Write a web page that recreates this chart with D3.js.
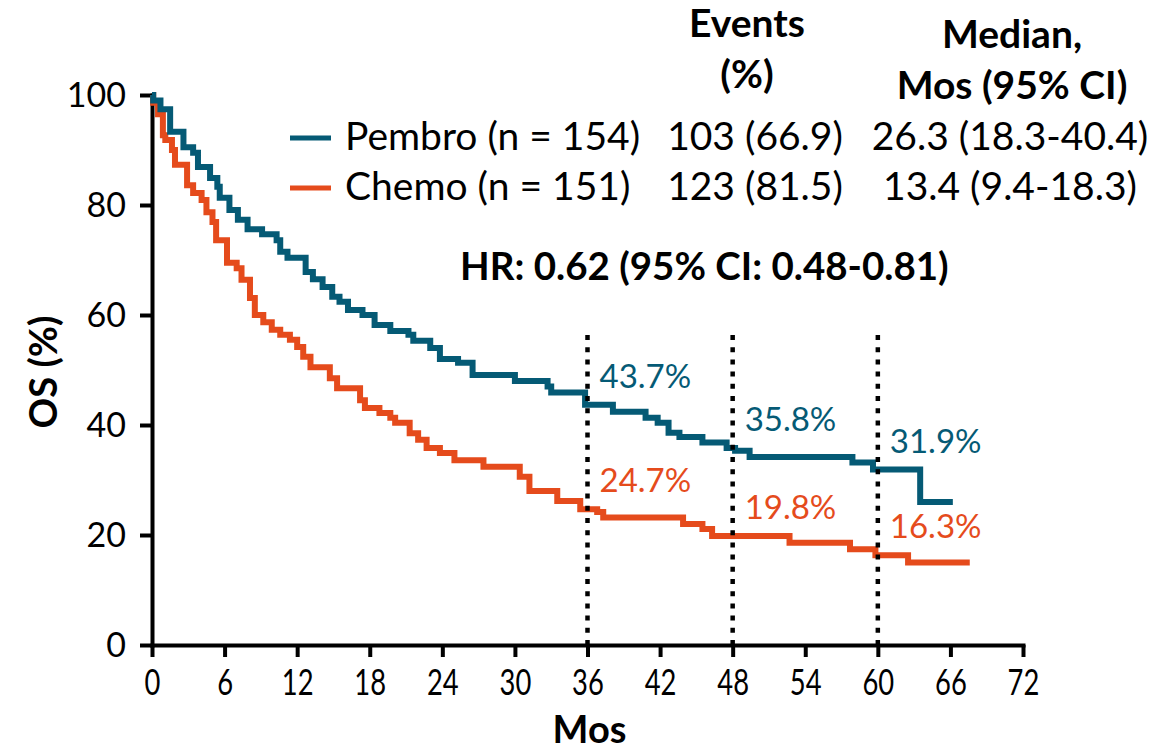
<!DOCTYPE html>
<html>
<head>
<meta charset="utf-8">
<script src="https://cdn.jsdelivr.net/npm/d3@7"></script>
<style>
  html, body { margin: 0; padding: 0; background: #fff; }
  svg { display: block; }
  text { font-family: Lato, "Open Sans", sans-serif; fill: #000; }
</style>
</head>
<body>
<svg id="chart" width="1165" height="751"></svg>
<script>
// Kaplan-Meier overall survival: month of each step and survival (%) after it
const pembroMonths = [0, 0.1, 0.7, 1.5, 2.6, 3.4, 3.8, 4.8, 5.4, 5.6, 6.4, 7.1, 7.9, 9.1, 10.3, 10.6, 11.2,
  12.7, 13.3, 14.1, 14.9, 15.5, 16.2, 17.4, 18.4, 19.7, 21.2, 21.6, 23.0, 23.8, 25.3, 26.5, 30.0, 32.7, 33.0,
  35.8, 38.1, 40.8, 41.8, 42.7, 43.6, 45.5, 47.5, 48.2, 49.4, 57.9, 59.6, 63.5, 66.2];
const pembroSurv = [100, 99.0, 97.4, 93.3, 90.5, 89.5, 86.9, 84.9, 83.3, 81.3, 79.1, 77.3, 75.6, 74.7, 73.6, 71.5, 70.4,
  67.8, 66.5, 65.1, 63.3, 62.4, 60.9, 60.0, 58.2, 57.1, 56.4, 55.3, 54.0, 52.0, 51.3, 49.1, 48.0, 47.0, 45.9,
  43.7, 42.4, 41.3, 40.4, 38.6, 37.8, 36.8, 35.8, 35.3, 34.2, 33.2, 31.9, 26.0, 26.0];

const chemoMonths = [0, 0.1, 0.5, 0.9, 1.1, 1.65, 1.9, 2.9, 3.4, 4.1, 4.5, 5.0, 5.3, 6.2, 7.0, 7.4, 8.1, 8.5,
  9.2, 9.9, 10.6, 11.4, 12.0, 12.5, 13.1, 14.7, 15.3, 17.2, 17.6, 18.8, 19.7, 20.1, 21.3, 22.0, 22.7, 23.8,
  25.0, 27.4, 30.4, 31.2, 33.5, 35.4, 36.8, 37.3, 43.9, 45.5, 46.3, 52.7, 57.7, 59.8, 62.5, 67.6];
const chemoSurv = [100, 98.6, 96.5, 92.7, 91.8, 90.0, 87.3, 83.6, 82.2, 80.9, 78.7, 76.9, 73.6, 69.5, 68.5, 66.4, 63.1, 60.0,
  58.7, 57.3, 56.4, 55.5, 54.2, 52.4, 50.5, 48.5, 46.7, 44.5, 43.1, 42.2, 41.3, 40.4, 38.5, 37.3, 35.8, 34.9,
  33.6, 32.4, 30.6, 28.0, 26.2, 24.7, 24.2, 23.2, 22.0, 21.1, 19.8, 18.6, 17.4, 16.3, 15.0, 15.0];

// Landmark time points and the survival rates printed at them
const landmarkMonths = [36, 48, 60];
const pembroLandmark = [43.7, 35.8, 31.9];
const chemoLandmark = [24.7, 19.8, 16.3];
const landmarkTop = 57;

// Axis ticks
const xTicks = [0, 6, 12, 18, 24, 30, 36, 42, 48, 54, 60, 66, 72];
const yTicks = [0, 20, 40, 60, 80, 100];

// Summary table
const armNames = ["Pembro (n = 154)", "Chemo (n = 151)"];
const armEvents = ["103 (66.9)", "123 (81.5)"];
const armMedians = ["26.3 (18.3-40.4)", "13.4 (9.4-18.3)"];
const hrText = "HR: 0.62 (95% CI: 0.48-0.81)";

const BLUE = "#055a75";
const ORANGE = "#e54b1c";
const armColors = [BLUE, ORANGE];

const svg = d3.select("#chart");

const x = d3.scaleLinear().domain([0, 72]).range([152, 1023]);
const y = d3.scaleLinear().domain([0, 100]).range([645, 95]);

// Axes
const xAxis = svg.append("g")
  .attr("transform", `translate(0,${y(0)})`)
  .call(d3.axisBottom(x).tickValues(xTicks).tickSize(12).tickSizeOuter(0).tickPadding(10));
const yAxis = svg.append("g")
  .attr("transform", `translate(${x(0)},0)`)
  .call(d3.axisLeft(y).tickValues(yTicks).tickSize(12).tickSizeOuter(0).tickPadding(14));

[xAxis, yAxis].forEach(g => {
  g.select(".domain").attr("stroke", "#000").attr("stroke-width", 4).attr("stroke-linecap", "square");
  g.selectAll(".tick line").attr("stroke", "#000").attr("stroke-width", 4);
  g.selectAll(".tick text").attr("fill", "#000").style("font-family", "Lato, sans-serif");
});
yAxis.selectAll(".tick text").style("font-size", "34px").attr("dy", "0.34em");
xAxis.selectAll(".tick text").style("font-size", "37px")
  .attr("transform", "scale(0.74,1)").attr("dy", "0.76em");

// Axis titles
svg.append("text")
  .attr("transform", `translate(57,${y(50) + 2}) rotate(-90)`)
  .attr("text-anchor", "middle")
  .style("font-size", "38px").style("font-weight", "bold")
  .text("OS (%)");
svg.append("text")
  .attr("x", x(36) + 2).attr("y", 743)
  .attr("text-anchor", "middle")
  .style("font-size", "38px").style("font-weight", "bold")
  .text("Mos");

// Survival curves
const stepLine = d3.line()
  .x(d => x(d[0]))
  .y(d => y(d[1]))
  .curve(d3.curveStepAfter);

const curves = [
  d3.zip(pembroMonths, pembroSurv),
  d3.zip(chemoMonths, chemoSurv)
];
// chemo drawn first so the pembro line sits on top near the origin
[1, 0].forEach(i => {
  svg.append("path")
    .datum(curves[i])
    .attr("fill", "none")
    .attr("stroke", armColors[i])
    .attr("stroke-width", 6)
    .attr("stroke-linejoin", "miter")
    .attr("d", stepLine);
});

// Landmark dotted verticals
svg.append("g").selectAll("line")
  .data(landmarkMonths)
  .join("line")
  .attr("x1", d => x(d)).attr("x2", d => x(d))
  .attr("y1", y(0)).attr("y2", y(landmarkTop))
  .attr("stroke", "#000")
  .attr("stroke-width", 4.5)
  .attr("stroke-dasharray", "5,7.2");

// Landmark rate labels
const landmarkLabels = [
  ...landmarkMonths.map((m, i) => ({ m, v: pembroLandmark[i], c: BLUE })),
  ...landmarkMonths.map((m, i) => ({ m, v: chemoLandmark[i], c: ORANGE }))
];
svg.append("g").selectAll("text")
  .data(landmarkLabels)
  .join("text")
  .attr("x", d => x(d.m) + 12)
  .attr("y", d => y(d.v) - 17)
  .style("font-size", "33px")
  .style("fill", d => d.c)
  .text(d => d.v.toFixed(1) + "%");

// Table headers
const headers = [
  { lines: ["Events", "(%)"], cx: 747, y0: 37 },
  { lines: ["Median,", "Mos (95% CI)"], cx: 1012, y0: 48 }
];
headers.forEach(h => {
  h.lines.forEach((t, k) => {
    svg.append("text")
      .attr("x", h.cx).attr("y", h.y0 + k * 51)
      .attr("text-anchor", "middle")
      .style("font-size", "39px").style("font-weight", "bold")
      .text(t);
  });
});

// Legend rows
const rowY = [150, 200];
armNames.forEach((name, i) => {
  svg.append("line")
    .attr("x1", 290).attr("x2", 331)
    .attr("y1", rowY[i] - 12).attr("y2", rowY[i] - 12)
    .attr("stroke", armColors[i]).attr("stroke-width", 5);
  svg.append("text").attr("x", 345).attr("y", rowY[i])
    .style("font-size", "39px").text(name);
  svg.append("text").attr("x", 755).attr("y", rowY[i])
    .attr("text-anchor", "middle").style("font-size", "39px").text(armEvents[i]);
  svg.append("text").attr("x", 1010).attr("y", rowY[i])
    .attr("text-anchor", "middle").style("font-size", "39px").text(armMedians[i]);
});

// Hazard ratio
svg.append("text")
  .attr("x", 460).attr("y", 280)
  .style("font-size", "38.5px").style("font-weight", "bold")
  .text(hrText);
</script>
</body>
</html>
